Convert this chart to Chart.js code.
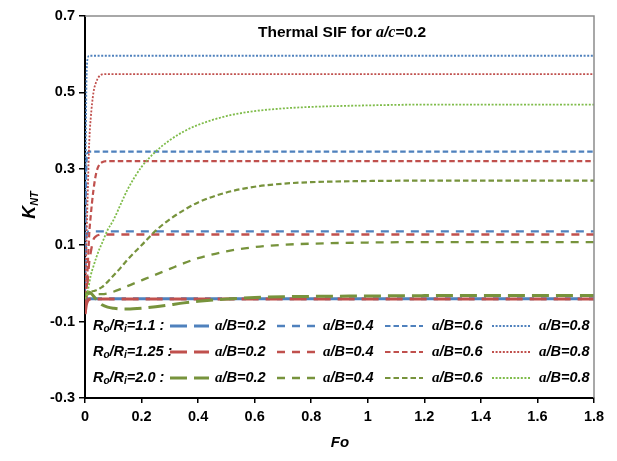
<!DOCTYPE html>
<html>
<head>
<meta charset="utf-8">
<script src="https://cdn.jsdelivr.net/npm/chart.js@4/dist/chart.umd.min.js"></script>
<style>
  html, body { margin: 0; padding: 0; background: #fff; }
  #chart { display: block; }
</style>
</head>
<body>
<canvas id="chart" width="617" height="461"></canvas>
<script>
// Fo sample points (dense near zero where the curves jump)
const fo = [0, 0.002, 0.005, 0.01, 0.015, 0.02, 0.03, 0.04, 0.05, 0.06, 0.08, 0.1, 0.125, 0.15,
  0.2, 0.25, 0.3, 0.35, 0.4, 0.5, 0.6, 0.7, 0.8, 1.0, 1.2, 1.4, 1.6, 1.8];

// Ro/Ri = 1.1
const r11_a02 = [-0.04, -0.04, -0.04, -0.04, -0.04, -0.04, -0.04, -0.04, -0.04, -0.04, -0.04, -0.04, -0.04, -0.04,
  -0.04, -0.04, -0.04, -0.04, -0.04, -0.04, -0.04, -0.04, -0.04, -0.04, -0.04, -0.04, -0.04, -0.04];
const r11_a04 = [-0.04, 0.05, 0.12, 0.134, 0.136, 0.136, 0.136, 0.136, 0.136, 0.136, 0.136, 0.136, 0.136, 0.136,
  0.136, 0.136, 0.136, 0.136, 0.136, 0.136, 0.136, 0.136, 0.136, 0.136, 0.136, 0.136, 0.136, 0.136];
const r11_a06 = [-0.04, 0.16, 0.31, 0.342, 0.345, 0.345, 0.345, 0.345, 0.345, 0.345, 0.345, 0.345, 0.345, 0.345,
  0.345, 0.345, 0.345, 0.345, 0.345, 0.345, 0.345, 0.345, 0.345, 0.345, 0.345, 0.345, 0.345, 0.345];
const r11_a08 = [-0.04, 0.25, 0.52, 0.59, 0.596, 0.596, 0.596, 0.596, 0.596, 0.596, 0.596, 0.596, 0.596, 0.596,
  0.596, 0.596, 0.596, 0.596, 0.596, 0.596, 0.596, 0.596, 0.596, 0.596, 0.596, 0.596, 0.596, 0.596];

// Ro/Ri = 1.25
const r125_a02 = [-0.08, -0.07, -0.055, -0.045, -0.042, -0.041, -0.041, -0.041, -0.041, -0.041, -0.041, -0.041, -0.041, -0.041,
  -0.041, -0.041, -0.041, -0.041, -0.041, -0.041, -0.041, -0.041, -0.041, -0.041, -0.041, -0.041, -0.041, -0.041];
const r125_a04 = [-0.08, -0.07, -0.04, 0.01, 0.056, 0.08, 0.115, 0.124, 0.127, 0.128, 0.128, 0.128, 0.128, 0.128,
  0.128, 0.128, 0.128, 0.128, 0.128, 0.128, 0.128, 0.128, 0.128, 0.128, 0.128, 0.128, 0.128, 0.128];
const r125_a06 = [-0.08, -0.07, -0.03, 0.05, 0.13, 0.175, 0.245, 0.29, 0.31, 0.317, 0.32, 0.32, 0.32, 0.32,
  0.32, 0.32, 0.32, 0.32, 0.32, 0.32, 0.32, 0.32, 0.32, 0.32, 0.32, 0.32, 0.32, 0.32];
const r125_a08 = [-0.08, -0.02, 0.1, 0.245, 0.37, 0.43, 0.5, 0.528, 0.542, 0.547, 0.548, 0.548, 0.548, 0.548,
  0.548, 0.548, 0.548, 0.548, 0.548, 0.548, 0.548, 0.548, 0.548, 0.548, 0.548, 0.548, 0.548, 0.548];

// Ro/Ri = 2.0
const r20_a02 = [-0.035, -0.03, -0.026, -0.024, -0.023, -0.025, -0.033, -0.042, -0.05, -0.056, -0.062, -0.065, -0.067, -0.067,
  -0.065, -0.061, -0.056, -0.051, -0.047, -0.041, -0.037, -0.035, -0.034, -0.033, -0.032, -0.032, -0.032, -0.032];
const r20_a04 = [-0.035, -0.032, -0.03, -0.028, -0.027, -0.026, -0.027, -0.028, -0.028, -0.028, -0.026, -0.022, -0.015, -0.007,
  0.008, 0.023, 0.038, 0.053, 0.066, 0.084, 0.095, 0.101, 0.104, 0.107, 0.108, 0.108, 0.108, 0.108];
const r20_a06 = [-0.035, -0.033, -0.03, -0.026, -0.024, -0.022, -0.02, -0.018, -0.014, -0.01, 0.004, 0.02, 0.04, 0.062,
  0.1, 0.138, 0.168, 0.192, 0.212, 0.238, 0.253, 0.261, 0.265, 0.268, 0.269, 0.269, 0.269, 0.269];
const r20_a08 = [-0.04, -0.038, -0.035, -0.02, 0.0, 0.02, 0.045, 0.068, 0.088, 0.105, 0.14, 0.165, 0.205, 0.245,
  0.305, 0.345, 0.375, 0.398, 0.415, 0.438, 0.451, 0.458, 0.462, 0.466, 0.468, 0.468, 0.468, 0.468];

const xTicks = [0, 0.2, 0.4, 0.6, 0.8, 1, 1.2, 1.4, 1.6, 1.8];
const yTicks = [-0.3, -0.1, 0.1, 0.3, 0.5, 0.7];

const ratioLabels = ["1.1", "1.25", "2.0"];
const aBLabels = ["0.2", "0.4", "0.6", "0.8"];

const BLUE = "#4f81bd", RED = "#c0504d", OLIVE = "#77933c", LIGHTGREEN = "#7fbc4a";

// line style per a/B
const styles = [
  { w: 3, dash: [17, 7] },
  { w: 2.3, dash: [8, 7] },
  { w: 2.2, dash: [5.5, 3] },
  { w: 1.8, dash: [2, 1.6] },
];

const groups = [
  { colors: [BLUE, BLUE, BLUE, BLUE], series: [r11_a02, r11_a04, r11_a06, r11_a08] },
  { colors: [RED, RED, RED, RED], series: [r125_a02, r125_a04, r125_a06, r125_a08] },
  { colors: [OLIVE, OLIVE, OLIVE, LIGHTGREEN], series: [r20_a02, r20_a04, r20_a06, r20_a08] },
];

const datasets = [];
groups.forEach((g, gi) => {
  g.series.forEach((vals, si) => {
    datasets.push({
      label: "Ro/Ri=" + ratioLabels[gi] + " a/B=" + aBLabels[si],
      data: vals.map((v, i) => ({ x: fo[i], y: v })),
      borderColor: g.colors[si],
      backgroundColor: g.colors[si],
      borderWidth: styles[si].w,
      borderDash: styles[si].dash,
      showLine: true,
      pointRadius: 0,
      fill: false,
      cubicInterpolationMode: "monotone",
      order: 100 - (gi * 4 + si),
    });
  });
});

const SANS = '"Liberation Sans", Arial, sans-serif';
const SERIF = '"Liberation Serif", "Times New Roman", serif';

// draws a row of text pieces with their own fonts
function richText(ctx, x, y, parts, align) {
  let total = 0;
  parts.forEach(p => { ctx.font = p.f; total += ctx.measureText(p.t).width; });
  let cx = align === "center" ? x - total / 2 : x;
  ctx.textAlign = "left";
  ctx.textBaseline = "middle";
  parts.forEach(p => {
    ctx.font = p.f;
    ctx.fillText(p.t, cx, y + (p.dy || 0));
    cx += ctx.measureText(p.t).width;
  });
}

const decorations = {
  id: "decorations",
  afterDraw(chart) {
    const ctx = chart.ctx;
    const a = chart.chartArea;
    ctx.save();

    // gray frame top and right
    ctx.strokeStyle = "#8c8c8c";
    ctx.lineWidth = 1.5;
    ctx.beginPath();
    ctx.moveTo(a.left, a.top);
    ctx.lineTo(a.right, a.top);
    ctx.lineTo(a.right, a.bottom);
    ctx.stroke();

    ctx.fillStyle = "#000";
    const b15 = "bold 15.5px " + SANS;
    const ib15 = "italic bold 15.5px " + SANS;
    const ib15s = "italic bold 16px " + SERIF;
    richText(ctx, 342, 33, [
      { t: "Thermal SIF for ", f: b15 },
      { t: "a", f: ib15s },
      { t: "/", f: ib15 },
      { t: "c", f: ib15s },
      { t: "=0.2", f: b15 },
    ], "center");

    // legend
    const rowY = [326, 352, 378];
    const lineX = [[170, 209], [277, 316], [385, 423], [492, 530]];
    const textX = [215, 323, 432, 539];
    const ib14 = "italic bold 14.5px " + SANS;
    const ib10 = "italic bold 10px " + SANS;
    const ib14s = "italic bold 15px " + SERIF;
    groups.forEach((g, gi) => {
      const y = rowY[gi];
      ctx.fillStyle = "#000";
      richText(ctx, 93, y, [
        { t: "R", f: ib14 },
        { t: "o", f: ib10, dy: 3 },
        { t: "/R", f: ib14 },
        { t: "i", f: ib10, dy: 3 },
        { t: "=" + ratioLabels[gi] + " :", f: ib14 },
      ], "left");
      g.colors.forEach((c, si) => {
        ctx.save();
        ctx.strokeStyle = c;
        ctx.lineWidth = styles[si].w;
        ctx.setLineDash(styles[si].dash);
        ctx.beginPath();
        ctx.moveTo(lineX[si][0], y);
        ctx.lineTo(lineX[si][1], y);
        ctx.stroke();
        ctx.restore();
        ctx.fillStyle = "#000";
        richText(ctx, textX[si], y, [
          { t: "a", f: ib14s },
          { t: "/B=" + aBLabels[si], f: ib14 },
        ], "left");
      });
    });

    // axis titles
    ctx.fillStyle = "#000";
    richText(ctx, 340, 443, [{ t: "Fo", f: "italic bold 15px " + SANS }], "center");
    ctx.translate(30, 205);
    ctx.rotate(-Math.PI / 2);
    richText(ctx, 0, 0, [
      { t: "K", f: "italic bold 18px " + SANS },
      { t: "NT", f: "italic bold 11px " + SANS, dy: 5 },
    ], "center");
    ctx.restore();
  },
};

new Chart(document.getElementById("chart"), {
  type: "scatter",
  data: { datasets: datasets },
  options: {
    responsive: false,
    animation: false,
    devicePixelRatio: 1,
    layout: { padding: { top: 16, right: 23, left: 0, bottom: 0 } },
    plugins: {
      legend: { display: false },
      title: { display: false },
      tooltip: { enabled: false },
    },
    scales: {
      x: {
        type: "linear",
        min: 0,
        max: 1.8,
        afterBuildTicks: s => { s.ticks = xTicks.map(v => ({ value: v })); },
        afterFit: s => { s.height = 63; },
        ticks: {
          color: "#000",
          padding: 5,
          maxRotation: 0,
          autoSkip: false,
          font: { family: SANS, size: 14.5, weight: "bold" },
          callback: v => String(v),
        },
        grid: { drawOnChartArea: false, drawTicks: true, tickLength: 5, color: "#000", lineWidth: 1.5 },
        border: { color: "#000", width: 2 },
      },
      y: {
        type: "linear",
        min: -0.3,
        max: 0.7,
        afterBuildTicks: s => { s.ticks = yTicks.map(v => ({ value: v })); },
        afterFit: s => { s.width = 85; },
        ticks: {
          color: "#000",
          padding: 4,
          autoSkip: false,
          font: { family: SANS, size: 14.5, weight: "bold" },
          callback: v => String(v),
        },
        grid: { drawOnChartArea: false, drawTicks: true, tickLength: 6, color: "#000", lineWidth: 1.5 },
        border: { color: "#000", width: 2 },
      },
    },
  },
  plugins: [decorations],
});
</script>
</body>
</html>
